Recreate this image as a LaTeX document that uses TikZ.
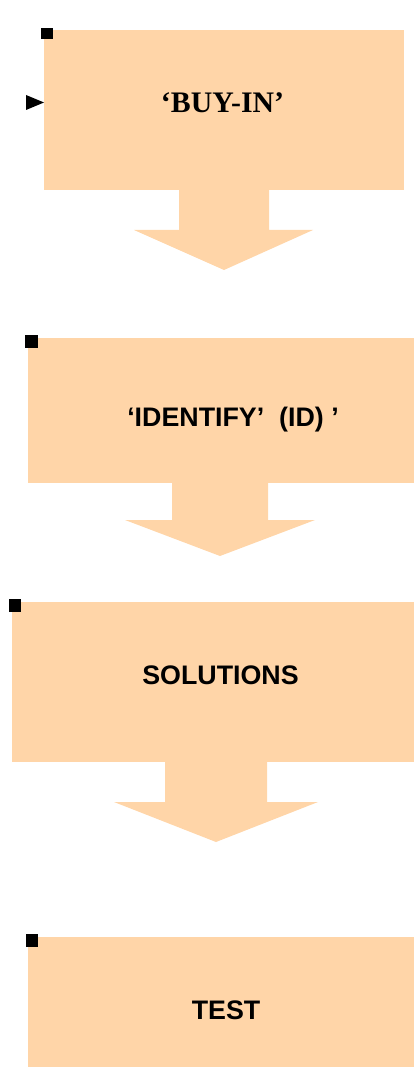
\documentclass[tikz,border=0pt]{standalone}
\usepackage{fontspec}
\newfontfamily\serifbf{Liberation Serif}
\newfontfamily\sansbf{Liberation Sans}
\definecolor{peach}{HTML}{FFD5A8}
\tikzset{
  shapefill/.style={fill=peach, draw=none},
  marker/.style={fill=black, draw=none},
  labelserif/.style={anchor=base, inner sep=0pt, font=\serifbf\fontsize{29.8}{32}\selectfont\bfseries},
  labelsans/.style={anchor=base, inner sep=0pt, font=\sansbf\fontsize{26.8}{30}\selectfont\bfseries},
}
\begin{document}
\begin{tikzpicture}[x=1pt,y=-1pt]
\useasboundingbox (0,0) rectangle (414,1067);
% box 1
\fill[shapefill] (44,30) rectangle (404,190);
\fill[shapefill] (179,189) -- (269,189) -- (269,230) -- (313,230) -- (224,270) -- (134,230) -- (179,230) -- cycle;
\fill[marker] (41,28) rectangle (53,39);
\fill[marker] (26,95) -- (44,102.5) -- (26,110) -- cycle;
\node[labelserif] (t1) at (222.5,113) {‘BUY-IN’};
% box 2
\fill[shapefill] (28,338) rectangle (414,483);
\fill[shapefill] (172,482) -- (268,482) -- (268,520) -- (315,520) -- (220,556) -- (125,520) -- (172,520) -- cycle;
\fill[marker] (25,335) rectangle (38,348);
\node[labelsans] (t2) at (233,426) {‘IDENTIFY’\ \ (ID)\ ’};
% box 3
\fill[shapefill] (12,602) rectangle (414,762);
\fill[shapefill] (165,761) -- (267,761) -- (267,802) -- (318,802) -- (216,842) -- (114,802) -- (165,802) -- cycle;
\fill[marker] (9,599) rectangle (21,612);
\node[labelsans] (t3) at (220.5,684) {SOLUTIONS};
% box 4
\fill[shapefill] (28,937) rectangle (414,1067);
\fill[marker] (26,934) rectangle (38,947);
\node[labelsans] (t4) at (226,1019) {TEST};
\end{tikzpicture}
\end{document}
